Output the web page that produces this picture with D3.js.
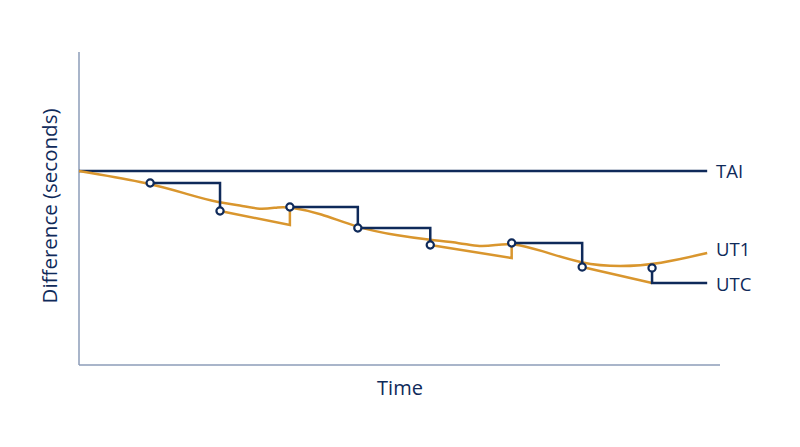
<!DOCTYPE html>
<html><head><meta charset="utf-8">
<script src="https://cdn.jsdelivr.net/npm/d3@7"></script>
<style>body{margin:0;background:#fff}text{font-family:"Open Sans",sans-serif;fill:#0f2a5a}</style>
</head><body><div id="chart"></div>
<script>
// time (0-100) vs offset from TAI
const tai = [[0, 0], [98, 0]];
const ut1 = [[0,0],[11.1,-12],[17.3,-24],[22,-32],[25.1,-34],[28.2,-39],[31.2,-36],[32.9,-36],[37.6,-42],[43.5,-57],[50,-65],[54.8,-69],[59.5,-72],[62.6,-76],[65,-74],[67.5,-72],[71.9,-79],[78.5,-93],[84.4,-96],[90.6,-93],[98,-82]];
const utcSteps = [
	[[11.1,-12],[22,-12],[22,-40]],
	[[32.9,-36],[43.5,-36],[43.5,-57],[54.8,-57],[54.8,-74]],
	[[67.5,-72],[78.5,-72],[78.5,-96]],
	[[89.4,-97],[89.4,-112],[98,-112]],
];
const drift = [
	[[22,-40],[32.9,-54],[32.9,-36]],
	[[54.8,-74],[67.5,-87],[67.5,-72]],
	[[78.5,-96],[89.4,-112]],
];
const leapPoints = [[11.1,-12],[22,-40],[32.9,-36],[43.5,-57],[54.8,-74],[67.5,-72],[78.5,-96],[89.4,-97]];
const labels = [["TAI",0],["UT1",-78],["UTC",-113]];

const size = { w: 800, h: 447 };
const svg = d3.select("#chart").append("svg").attr("width", size.w).attr("height", size.h);
const x = d3.scaleLinear().domain([0, 100]).range([79, 720]);
const y = d3.scaleLinear().domain([119, -194]).range([52, 365]);
const line = d3.line().x((d) => x(d[0])).y((d) => y(d[1]));
const lineC = d3.line().x((d) => x(d[0])).y((d) => y(d[1])).curve(d3.curveBasis);
const navy = "#0f2a5a", orange = "#d9962e";

svg.append("line").attr("x1", 79).attr("x2", 79).attr("y1", 52).attr("y2", 365).attr("stroke", "#8c9cb8").attr("stroke-width", 1.5);
svg.append("line").attr("x1", 79).attr("x2", 720).attr("y1", 365).attr("y2", 365).attr("stroke", "#8c9cb8").attr("stroke-width", 1.5);

svg.append("path").attr("d", line(tai)).attr("fill", "none").attr("stroke", navy).attr("stroke-width", 2.5);
drift.forEach((d) => svg.append("path").attr("d", line(d)).attr("fill", "none").attr("stroke", orange).attr("stroke-width", 2.5));
svg.append("path").attr("d", lineC(ut1)).attr("fill", "none").attr("stroke", orange).attr("stroke-width", 2.5);
utcSteps.forEach((d) => svg.append("path").attr("d", line(d)).attr("fill", "none").attr("stroke", navy).attr("stroke-width", 2.5));
svg.selectAll(".leap").data(leapPoints).join("circle")
	.attr("cx", (d) => x(d[0])).attr("cy", (d) => y(d[1])).attr("r", 3.6)
	.attr("fill", "#fff").attr("stroke", navy).attr("stroke-width", 2.2);

svg.selectAll(".lab").data(labels).join("text")
	.attr("x", 716).attr("y", (d) => y(d[1])).attr("dy", "0.36em")
	.attr("font-size", 18.5).text((d) => d[0]);
svg.append("text").attr("x", 400).attr("y", 395).attr("text-anchor", "middle").attr("font-size", 20).text("Time");
svg.append("text").attr("transform", "translate(57,206) rotate(-90)").attr("text-anchor", "middle").attr("font-size", 20.5).text("Difference (seconds)");
</script></body></html>
